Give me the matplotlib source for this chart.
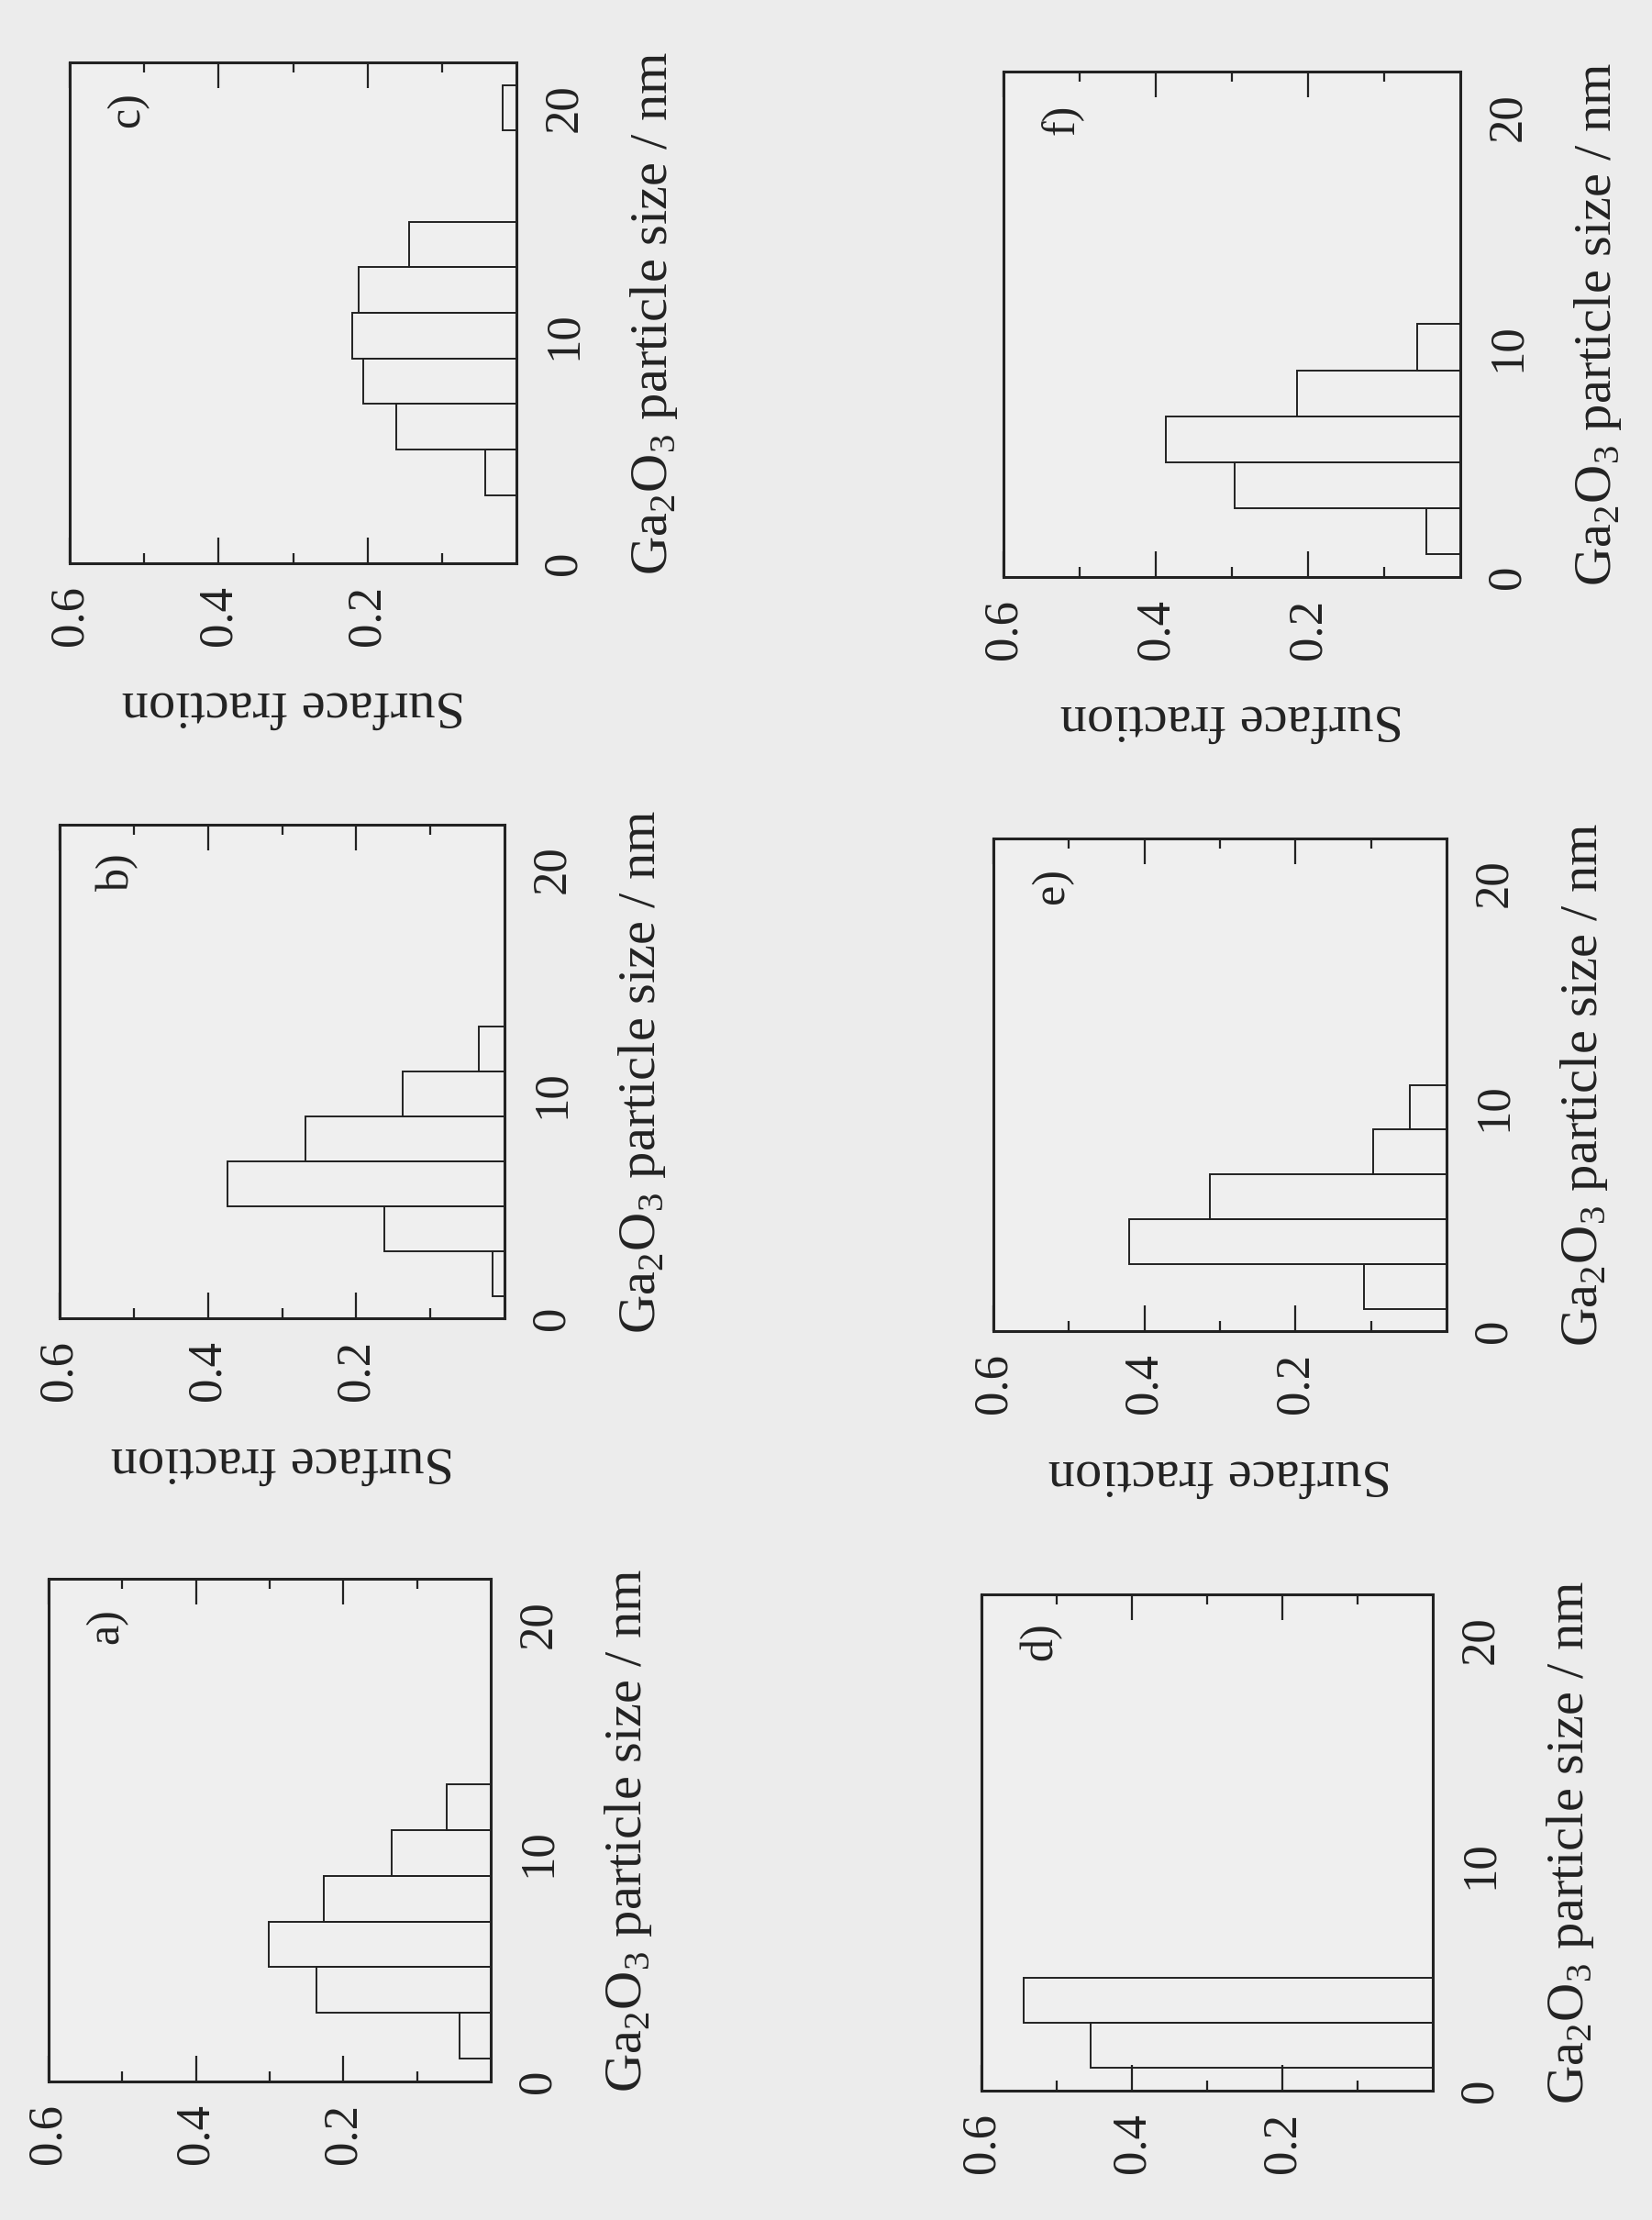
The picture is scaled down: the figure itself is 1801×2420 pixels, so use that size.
import matplotlib
matplotlib.use("Agg")
import matplotlib.pyplot as plt

plt.rcParams["font.family"] = ["Liberation Serif", "DejaVu Serif"]
plt.rcParams["mathtext.fontset"] = "custom"
plt.rcParams["mathtext.rm"] = "Liberation Serif"

# particle size bins (nm, bin centres, width 2 nm) and surface fractions
bin_width = 2.0
sizes_a = [2, 4, 6, 8, 10, 12]
frac_a = [0.042, 0.236, 0.301, 0.227, 0.134, 0.060]
sizes_b = [2, 4, 6, 8, 10, 12]
frac_b = [0.016, 0.162, 0.373, 0.269, 0.137, 0.035]
sizes_c = [4, 6, 8, 10, 12, 14, 20]
frac_c = [0.042, 0.161, 0.206, 0.220, 0.212, 0.144, 0.019]
sizes_d = [2, 4]
frac_d = [0.455, 0.544]
sizes_e = [2, 4, 6, 8, 10]
frac_e = [0.109, 0.420, 0.313, 0.097, 0.049]
sizes_f = [2, 4, 6, 8, 10]
frac_f = [0.045, 0.296, 0.387, 0.214, 0.057]

frac_ticks = [0.2, 0.4, 0.6]
frac_ticklabels = ["0.2", "0.4", "0.6"]
frac_minor = [0.1, 0.3, 0.5]
size_ticks = [0, 10, 20]
size_ticklabels = ["0", "10", "20"]

xlabel = r"Ga$_\mathrm{2}$O$_\mathrm{3}$ particle size / nm"
flabel = "Surface fraction"

W, H = 1801, 2420
bg = "#ececec"
ink = "#222222"

# panel boxes in pixels: (left, right, top, bottom) -- page is scanned sideways
panels = [
    ("c)", sizes_c, frac_c, (76, 563, 68, 614), True),
    ("b)", sizes_b, frac_b, (65, 550, 899, 1437), True),
    ("a)", sizes_a, frac_a, (53, 535, 1721, 2269), False),
    ("f)", sizes_f, frac_f, (1094, 1592, 78, 629), True),
    ("e)", sizes_e, frac_e, (1083, 1577, 914, 1451), True),
    ("d)", sizes_d, frac_d, (1070, 1562, 1738, 2279), False),
]

fig = plt.figure(figsize=(W / 100, H / 100), dpi=100, facecolor=bg)

for letter, sizes, fracs, (x0, x1, y0, y1), show_flabel in panels:
    ax = fig.add_axes([x0 / W, 1 - y1 / H, (x1 - x0) / W, (y1 - y0) / H])
    ax.set_facecolor("#efefef")

    ax.barh(sizes, fracs, height=bin_width, left=0, color="none",
            edgecolor=ink, linewidth=1.4)

    ax.set_xlim(0.6, 0.0)
    ax.set_ylim(0, 22)

    for s in ax.spines.values():
        s.set_linewidth(2.2)
        s.set_color(ink)

    # fraction axis (horizontal)
    ax.set_xticks(frac_ticks)
    ax.set_xticklabels(frac_ticklabels, rotation=90, va="top", ha="center")
    ax.set_xticks(frac_minor, minor=True)
    ax.tick_params(axis="x", which="major", direction="in", length=20,
                   width=1.6, color=ink, top=True, bottom=True,
                   labelsize=38, pad=17, labelcolor=ink)
    ax.tick_params(axis="x", which="minor", direction="in", length=8,
                   width=1.6, color=ink, top=True, bottom=True)

    # size axis (vertical), labels on the right
    ax.yaxis.tick_right()
    ax.set_yticks(size_ticks)
    ax.set_yticklabels(size_ticklabels, rotation=90, va="center", ha="left")
    ax.tick_params(axis="y", which="both", length=0, labelsize=38, pad=20,
                   labelcolor=ink)

    ax.yaxis.set_label_position("right")
    ax.set_ylabel(xlabel, fontsize=42, rotation=90, color=ink)
    ax.yaxis.label.set_va("center")
    ax.yaxis.label.set_ha("center")
    ax.yaxis.set_label_coords(1 + 150 / (x1 - x0), 0.5)

    if show_flabel:
        ax.set_xlabel(flabel, fontsize=42, rotation=180, color=ink)
        ax.xaxis.label.set_va("center")
        ax.xaxis.label.set_ha("center")
        ax.xaxis.set_label_coords(0.5, -155 / (y1 - y0))

    ax.text(0.13, 0.905, letter, transform=ax.transAxes, rotation=90,
            fontsize=36, ha="center", va="center", color=ink)

fig.savefig("out.png", dpi=100, facecolor=bg)
